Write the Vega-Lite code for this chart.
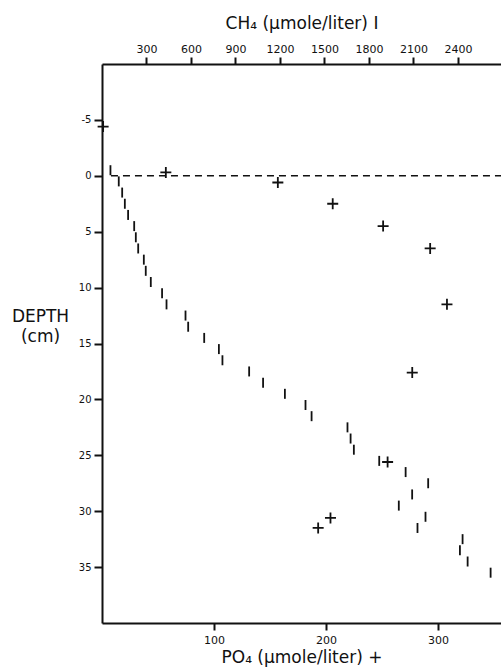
{
  "$schema": "https://vega.github.io/schema/vega-lite/v6.json",
  "width": 399,
  "height": 559,
  "autosize": "none",
  "padding": {"left": 102, "top": 64, "right": 0, "bottom": 46},
  "background": "white",
  "config": {
    "view": {"stroke": null},
    "font": "DejaVu Sans",
    "axis": {
      "grid": false,
      "domainColor": "#111",
      "domainWidth": 2,
      "tickColor": "#111",
      "tickWidth": 2,
      "labelColor": "#111",
      "titleColor": "#111",
      "labelFont": "DejaVu Sans",
      "titleFont": "DejaVu Sans",
      "labelFontSize": 11,
      "titleFontSize": 17,
      "titleFontWeight": "normal"
    }
  },
  "datasets": {
    "ch4": [
      {"depth": -0.5, "ch4": 57},
      {"depth": 0.5, "ch4": 113},
      {"depth": 1.5, "ch4": 136},
      {"depth": 2.5, "ch4": 154},
      {"depth": 3.5, "ch4": 176},
      {"depth": 4.5, "ch4": 217},
      {"depth": 5.5, "ch4": 228},
      {"depth": 6.5, "ch4": 244},
      {"depth": 7.5, "ch4": 282},
      {"depth": 8.5, "ch4": 295},
      {"depth": 9.5, "ch4": 329},
      {"depth": 10.5, "ch4": 405},
      {"depth": 11.5, "ch4": 435},
      {"depth": 12.5, "ch4": 563},
      {"depth": 13.5, "ch4": 581},
      {"depth": 14.5, "ch4": 689},
      {"depth": 15.5, "ch4": 788},
      {"depth": 16.5, "ch4": 812},
      {"depth": 17.5, "ch4": 992},
      {"depth": 18.5, "ch4": 1086},
      {"depth": 19.5, "ch4": 1233},
      {"depth": 20.5, "ch4": 1372},
      {"depth": 21.5, "ch4": 1413},
      {"depth": 22.5, "ch4": 1655},
      {"depth": 23.5, "ch4": 1676},
      {"depth": 24.5, "ch4": 1698},
      {"depth": 25.5, "ch4": 1869},
      {"depth": 26.5, "ch4": 2047},
      {"depth": 27.5, "ch4": 2199},
      {"depth": 28.5, "ch4": 2091},
      {"depth": 29.5, "ch4": 2001},
      {"depth": 30.5, "ch4": 2181},
      {"depth": 31.5, "ch4": 2127},
      {"depth": 32.5, "ch4": 2431},
      {"depth": 33.5, "ch4": 2413},
      {"depth": 34.5, "ch4": 2465},
      {"depth": 35.5, "ch4": 2620}
    ],
    "po4": [
      {"depth": -4.4, "po4": 1},
      {"depth": -0.3, "po4": 57},
      {"depth": 0.6, "po4": 157},
      {"depth": 2.5, "po4": 206},
      {"depth": 4.5, "po4": 251},
      {"depth": 6.5, "po4": 293},
      {"depth": 11.5, "po4": 308},
      {"depth": 17.6, "po4": 277},
      {"depth": 25.6, "po4": 255},
      {"depth": 30.6, "po4": 204},
      {"depth": 31.5, "po4": 193}
    ],
    "surface": [
      {"depth": 0, "po4": 8, "po4_end": 356.25}
    ]
  },
  "encoding": {
    "y": {
      "field": "depth",
      "type": "quantitative",
      "scale": {"domain": [-10, 40], "reverse": true, "nice": false, "zero": false},
      "axis": {
        "orient": "left",
        "values": [-5, 0, 5, 10, 15, 20, 25, 30, 35],
        "labelExpr": "'' + datum.value",
        "labelFontSize": 10,
        "title": ["DEPTH", "(cm)"],
        "titleAngle": 0,
        "titleAlign": "center",
        "titleBaseline": "top",
        "titleX": -62,
        "titleY": 244,
        "titleLineHeight": 20,
        "tickSize": 8,
        "labelPadding": 3
      }
    }
  },
  "layer": [
    {
      "data": {"name": "ch4"},
      "mark": {"type": "tick", "orient": "vertical", "size": 10, "thickness": 1.8, "color": "#111", "opacity": 1},
      "encoding": {
        "x": {
          "field": "ch4",
          "type": "quantitative",
          "scale": {"domain": [0, 2690], "nice": false, "zero": false},
          "axis": {
            "orient": "top",
            "values": [300, 600, 900, 1200, 1500, 1800, 2100, 2400],
            "format": "d",
            "title": "CH₄ (μmole/liter) I",
            "titleBaseline": "alphabetic",
            "titleY": -36,
            "tickSize": 7,
            "labelPadding": 3
          }
        }
      }
    },
    {
      "encoding": {
        "x": {
          "field": "po4",
          "type": "quantitative",
          "scale": {"domain": [0, 356.25], "nice": false, "zero": false},
          "axis": {
            "orient": "bottom",
            "values": [100, 200, 300],
            "format": "d",
            "title": "PO₄ (μmole/liter) +",
            "titleBaseline": "alphabetic",
            "titleY": 39,
            "tickSize": 7,
            "labelPadding": 4
          }
        }
      },
      "layer": [
        {
          "data": {"name": "surface"},
          "mark": {"type": "rule", "strokeDash": [7, 5], "strokeWidth": 1.6, "color": "#111"},
          "encoding": {"x2": {"field": "po4_end"}}
        },
        {
          "data": {"name": "po4"},
          "mark": {"type": "point", "shape": "M-1,0H1M0,-1V1", "size": 121, "strokeWidth": 1.8, "filled": false, "opacity": 1, "color": "#111"}
        }
      ]
    }
  ],
  "resolve": {"scale": {"x": "independent"}, "axis": {"x": "independent"}}
}
